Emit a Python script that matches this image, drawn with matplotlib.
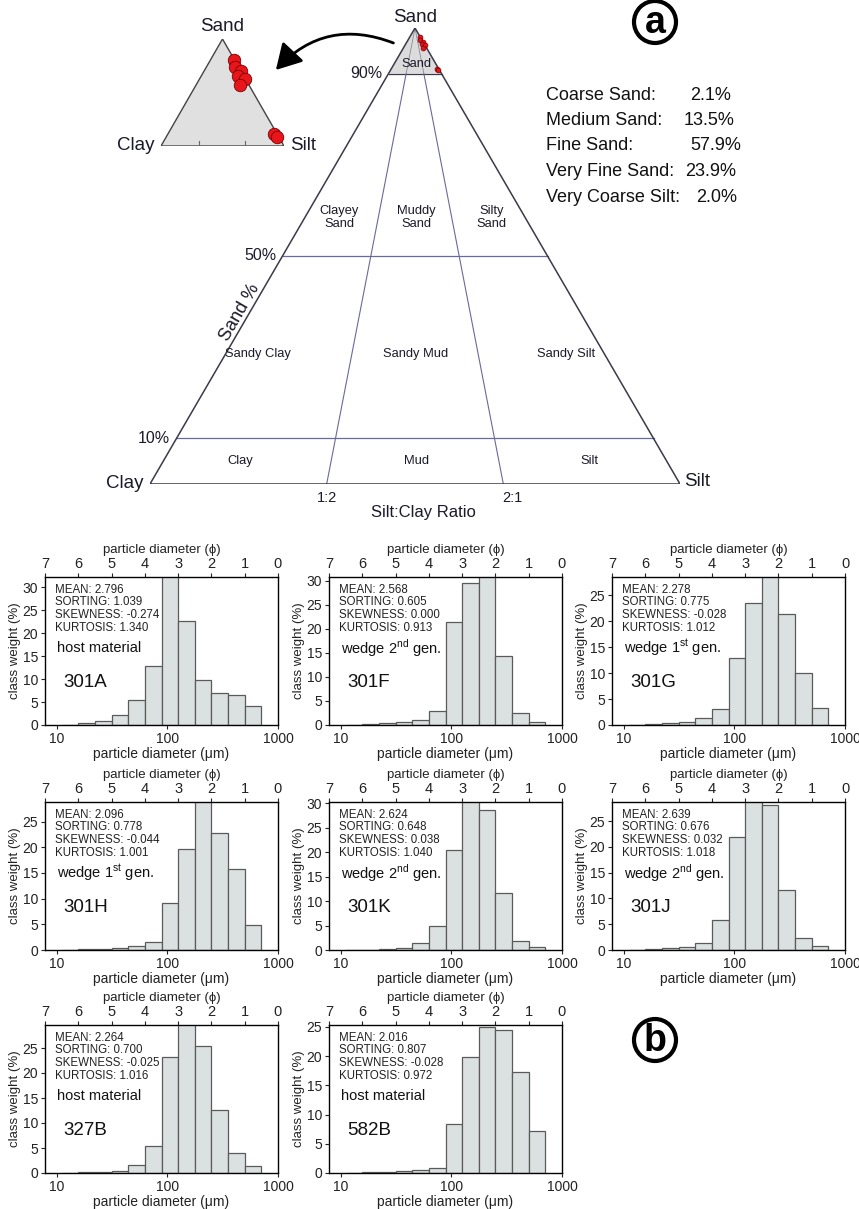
import numpy as np
import matplotlib.pyplot as plt
from matplotlib.patches import Polygon, Circle, FancyArrowPatch
from matplotlib.ticker import NullLocator

plt.rcParams['font.family'] = ['Liberation Sans', 'DejaVu Sans']
plt.rcParams['mathtext.fontset'] = 'custom'
plt.rcParams['mathtext.rm'] = 'Liberation Sans'

# ---------------- data ----------------
# sample compositions (%) plotted in the ternary diagrams
sand_pct = [98.0, 97.4, 97.0, 96.5, 96.3, 95.7, 91.1, 90.8]
silt_pct = [1.9, 2.3, 3.0, 3.0, 3.7, 3.6, 8.6, 9.0]
clay_pct = [0.1, 0.3, 0.0, 0.5, 0.0, 0.7, 0.3, 0.2]

grain_classes = ["Coarse Sand:", "Medium Sand:", "Fine Sand:", "Very Fine Sand:", "Very Coarse Silt:"]
grain_values = ["2.1%", "13.5%", "57.9%", "23.9%", "2.0%"]

# half-phi classes, fine -> coarse
phi_edges = [6.5, 6.0, 5.5, 5.0, 4.5, 4.0, 3.5, 3.0, 2.5, 2.0, 1.5, 1.0, 0.5]

names = ["301A", "301F", "301G", "301H", "301K", "301J", "327B", "582B"]
groups = ["host material", r"wedge 2$^{\rm nd}$ gen.", r"wedge 1$^{\rm st}$ gen.",
          r"wedge 1$^{\rm st}$ gen.", r"wedge 2$^{\rm nd}$ gen.", r"wedge 2$^{\rm nd}$ gen.",
          "host material", "host material"]
means = ["2.796", "2.568", "2.278", "2.096", "2.624", "2.639", "2.264", "2.016"]
sortings = ["1.039", "0.605", "0.775", "0.778", "0.648", "0.676", "0.700", "0.807"]
skewness = ["-0.274", "0.000", "-0.028", "-0.044", "0.038", "0.032", "-0.025", "-0.028"]
kurtosis = ["1.340", "0.913", "1.012", "1.001", "1.040", "1.018", "1.016", "0.972"]

w301A = [0.1, 0.4, 0.9, 2.1, 5.4, 12.8, 32.5, 22.7, 9.8, 7.0, 6.5, 4.2]
w301F = [0.05, 0.15, 0.4, 0.6, 1.0, 3.0, 21.5, 29.6, 31.0, 14.4, 2.5, 0.6]
w301G = [0.05, 0.2, 0.4, 0.6, 1.3, 3.0, 12.9, 23.4, 29.5, 21.3, 10.0, 3.2]
w301H = [0.05, 0.1, 0.2, 0.4, 0.7, 1.5, 9.1, 19.6, 29.5, 22.7, 15.7, 4.9]
w301K = [0.03, 0.1, 0.2, 0.4, 1.5, 4.9, 20.4, 30.5, 28.6, 11.6, 1.9, 0.7]
w301J = [0.05, 0.15, 0.3, 0.6, 1.4, 5.8, 21.9, 29.5, 28.2, 11.7, 2.4, 0.7]
w327B = [0.05, 0.15, 0.3, 0.5, 1.6, 5.4, 23.2, 30.0, 25.4, 12.6, 4.0, 1.5]
w582B = [0.05, 0.1, 0.2, 0.3, 0.5, 0.9, 8.3, 19.8, 25.0, 24.4, 17.3, 7.2]
weights = [w301A, w301F, w301G, w301H, w301K, w301J, w327B, w582B]
ymaxs = [32.2, 30.8, 28.5, 28.8, 30.3, 28.7, 29.6, 25.3]

W, H = 859, 1209
fig = plt.figure(figsize=(W / 100, H / 100), dpi=100)


def px_axes(x0, y0, x1, y1):
    # axes from pixel box (top-left origin)
    return fig.add_axes([x0 / W, 1 - y1 / H, (x1 - x0) / W, (y1 - y0) / H])


def tern(sand, silt):
    # sand, silt as fractions -> x, y in unit triangle axes
    return silt + sand / 2, sand


sand_f = np.array(sand_pct) / 100
silt_f = np.array(silt_pct) / 100
clay_f = np.array(clay_pct) / 100

edge_col = '#3a3a4a'
line_col = '#6a6a9a'
txt_col = '#1a1a2a'

# ---------------- main ternary ----------------
at = px_axes(150, 28, 680, 484)
at.set_xlim(0, 1)
at.set_ylim(0, 1)
at.axis('off')
at.add_patch(Polygon([(0.45, 0.9), (0.55, 0.9), (0.5, 1.0)], closed=True,
                     facecolor='#dcdcdc', edgecolor='none', zorder=0))
at.plot([0, 1, 0.5, 0], [0, 0, 1, 0], color=edge_col, lw=1.1, zorder=3)
for s in [0.9, 0.5, 0.1]:
    at.plot([s / 2, 1 - s / 2], [s, s], color=line_col if s < 0.9 else edge_col, lw=0.9, zorder=2)
for r in [1 / 3, 2 / 3]:
    xa, ya = tern(0, r)
    xb, yb = tern(0.9, r * 0.1)
    at.plot([xa, xb], [ya, yb], color=line_col, lw=0.8, zorder=2)
    at.plot([xb, 0.5], [yb, 1.0], color='#8a8a9a', lw=0.6, zorder=2)

tx, ty = tern(sand_f, silt_f)
at.plot(tx, ty, 'o', ms=3.5, mfc='#e8151b', mec='#7a0000', mew=0.5, zorder=5, clip_on=False)

rf = 9.3
regions = [("Clayey\nSand", 0.357, 0.585), ("Muddy\nSand", 0.502, 0.585), ("Silty\nSand", 0.645, 0.585),
           ("Sandy Clay", 0.204, 0.285), ("Sandy Mud", 0.502, 0.285), ("Sandy Silt", 0.785, 0.285),
           ("Clay", 0.170, 0.05), ("Mud", 0.502, 0.05), ("Silt", 0.83, 0.05)]
for txt, x, y in regions:
    at.text(x, y, txt, ha='center', va='center', fontsize=rf, color=txt_col, linespacing=1.1)
at.text(0.502, 0.92, "Sand", ha='center', va='center', fontsize=rf, color=txt_col)

at.text(0.5, 1.005, "Sand", ha='center', va='bottom', fontsize=13.5, color=txt_col)
at.text(-0.012, 0.0, "Clay", ha='right', va='center', fontsize=13.5, color=txt_col)
at.text(1.008, 0.005, "Silt", ha='left', va='center', fontsize=13.5, color=txt_col)
for s, lab in [(0.9, "90%"), (0.5, "50%"), (0.1, "10%")]:
    at.text(s / 2 - 0.012, s, lab, ha='right', va='center', fontsize=11.5, color=txt_col)
at.text(0.17, 0.377, "Sand %", ha='center', va='center', rotation=60, fontsize=13, color=txt_col)
at.text(1 / 3, -0.015, "1:2", ha='center', va='top', fontsize=10.5, color=txt_col)
at.text(0.683, -0.015, "2:1", ha='center', va='top', fontsize=10.5, color=txt_col)
at.text(0.515, -0.045, "Silt:Clay Ratio", ha='center', va='top', fontsize=12, color=txt_col)

# ---------------- inset (sand > 90 %) ----------------
ai = px_axes(161, 39, 284, 146)
ai.set_xlim(0, 1)
ai.set_ylim(0, 1)
ai.axis('off')
ai.add_patch(Polygon([(0, 0), (1, 0), (0.5, 1)], closed=True, facecolor='#e0e0e0',
                     edgecolor='#444444', lw=1.0))
for r in [0.31, 0.68]:
    ai.plot([r, r], [0, 0.05], color='#666666', lw=0.8)
ix, iy = tern((sand_f - 0.9) / 0.1, silt_f / 0.1)
ai.plot(ix, iy, 'o', ms=9, mfc='#e8151b', mec='#7a0000', mew=0.6, clip_on=False, zorder=5)
ai.text(0.5, 1.04, "Sand", ha='center', va='bottom', fontsize=13.5, color=txt_col)
ai.text(-0.05, 0.0, "Clay", ha='right', va='center', fontsize=13.5, color=txt_col)
ai.text(1.05, 0.0, "Silt", ha='left', va='center', fontsize=13.5, color=txt_col)

# ---------------- histograms ----------------
um_edges = 1000 * 2.0 ** (-np.array(phi_edges))
col_x = [45, 329, 612]
row_y = [577, 802, 1025]
aw, ah = 233, 148

for i, name in enumerate(names):
    r, c = divmod(i, 3)
    x0, y0 = col_x[c], row_y[r]
    ax = px_axes(x0, y0, x0 + aw, y0 + ah)
    ax.bar(um_edges[:-1], weights[i], width=np.diff(um_edges), align='edge',
           color='#dbe1e1', edgecolor='#5a5a5a', lw=0.9)
    ax.set_xscale('log')
    ax.set_xlim(1000 * 2.0 ** -7, 1000)
    ax.set_ylim(0, ymaxs[i])
    ax.set_xticks([10, 100, 1000])
    ax.set_xticklabels(['10', '100', '1000'])
    ax.xaxis.set_minor_locator(NullLocator())
    ax.set_yticks(np.arange(0, ymaxs[i] + 0.01, 5))
    ax.tick_params(labelsize=10, length=3, width=0.8, pad=2, colors='#222222')
    ax.set_xlabel("particle diameter (μm)", fontsize=10, labelpad=1, color='#222222')
    ax.set_ylabel("class weight (%)", fontsize=9.5, labelpad=1, color='#222222')
    for sp in ax.spines.values():
        sp.set_color('#444444')
        sp.set_linewidth(1.0)
    top = ax.twiny()
    top.set_xlim(7, 0)
    top.set_xticks(range(7, -1, -1))
    top.tick_params(labelsize=10.5, length=3, width=0.8, pad=1, colors='#222222')
    top.set_xlabel("particle diameter (ϕ)", fontsize=9.5, labelpad=3, color='#222222')

    stats = ("MEAN: %s\nSORTING: %s\nSKEWNESS: %s\nKURTOSIS: %s"
             % (means[i], sortings[i], skewness[i], kurtosis[i]))
    ax.text(0.045, 0.955, stats, transform=ax.transAxes, ha='left', va='top',
            fontsize=8.3, linespacing=1.08, color='#222222')
    ax.text(0.05, 0.52, groups[i], transform=ax.transAxes, ha='left', va='center',
            fontsize=10.5, color='#111111')
    ax.text(0.08, 0.285, name, transform=ax.transAxes, ha='left', va='center',
            fontsize=13.5, color='#111111')

# ---------------- overlay: arrow, legend text, labels ----------------
ov = fig.add_axes([0, 0, 1, 1])
ov.set_xlim(0, W)
ov.set_ylim(H, 0)
ov.axis('off')
ov.patch.set_alpha(0)

ov.add_patch(FancyArrowPatch((396, 44), (274, 72), connectionstyle="arc3,rad=0.35",
                             arrowstyle="-|>,head_length=7,head_width=4", color='black',
                             lw=2.0, mutation_scale=2.2))

val_x = [690, 684, 690, 685, 696]
for k, (lab, val) in enumerate(zip(grain_classes, grain_values)):
    yy = 95 + k * 25.5
    ov.text(546, yy, lab, ha='left', va='center', fontsize=13, color='#111111')
    ov.text(val_x[k], yy, val, ha='left', va='center', fontsize=13, color='#111111')

for (cx, cy), letter in [((655, 22), "a"), ((655, 1040), "b")]:
    ov.add_patch(Circle((cx, cy), 21, facecolor='white', edgecolor='black', lw=3))
    ov.text(cx, cy + 1, letter, ha='center', va='center', fontsize=27, fontweight='bold')

fig.savefig("out.png", dpi=100)
